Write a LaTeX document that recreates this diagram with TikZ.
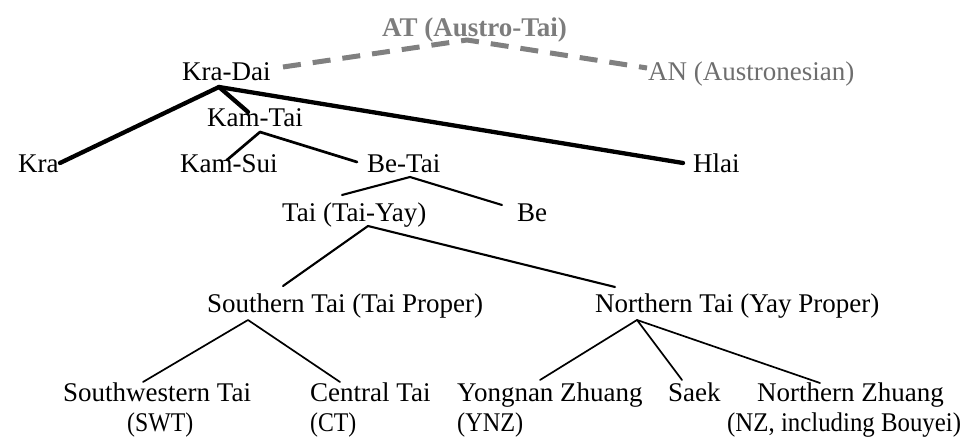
\documentclass[tikz,border=0pt]{standalone}
\usepackage{fontspec}
\setmainfont{Liberation Serif}
\definecolor{atgray}{RGB}{125,125,125}
\definecolor{angray}{RGB}{110,110,110}
\definecolor{dashgray}{RGB}{128,128,128}
\begin{document}
\begin{tikzpicture}[x=1pt,y=-1pt,
  lbl/.style={anchor=base west,inner sep=0pt,font=\fontsize{27}{30}\selectfont},
  thickl/.style={line width=4.3pt,line cap=round,line join=round},
  medl/.style={line width=2.7pt,line cap=round,line join=round},
  thinl/.style={line width=2.1pt,line cap=round,line join=round},
  finel/.style={line width=1.7pt,line cap=round,line join=round},
  dashl/.style={dashgray,line width=5pt,dash pattern=on 18pt off 12pt}]
\useasboundingbox (0,0) rectangle (971,438);
% labels
\node[lbl,text=atgray,font=\fontsize{27}{30}\selectfont\bfseries] (at) at (382,37) {AT (Austro-Tai)};
\node[lbl] (kradai) at (182,81) {Kra-Dai};
\node[lbl,text=angray] (an) at (648,81) {AN (Austronesian)};
\node[lbl] (kamtai) at (207,127) {Kam-Tai};
\node[lbl] (kra) at (18,173) {Kra};
\node[lbl] (kamsui) at (180,173) {Kam-Sui};
\node[lbl] (betai) at (367,173) {Be-Tai};
\node[lbl] (hlai) at (693,173) {Hlai};
\node[lbl] (tai) at (282,222) {Tai (Tai-Yay)};
\node[lbl] (be) at (517,222) {Be};
\node[lbl] (stai) at (207,312) {Southern Tai (Tai Proper)};
\node[lbl] (ntai) at (595,312) {Northern Tai (Yay Proper)};
\node[lbl] (swt) at (63,401) {Southwestern Tai};
\node[lbl] (swtb) at (127,431) {\scalebox{0.88}[1]{(SWT)}};
\node[lbl] (ct) at (310,401) {Central Tai};
\node[lbl] (ctb) at (310,431) {\scalebox{0.88}[1]{(CT)}};
\node[lbl] (ynz) at (457,401) {Yongnan Zhuang};
\node[lbl] (ynzb) at (457,431) {\scalebox{0.9}[1]{(YNZ)}};
\node[lbl] (saek) at (668,401) {Saek};
\node[lbl] (nz) at (757,401) {Northern Zhuang};
\node[lbl] (nzb) at (727,431) {\scalebox{0.92}[1]{(NZ, including Bouyei)}};
% connector points
\coordinate (kradaiE) at (283,67);
\coordinate (atA) at (467,40);
\coordinate (anW) at (647,68);
\coordinate (kradaiA) at (219,87);
\coordinate (kraE) at (60,163);
\coordinate (kamtaiE) at (248,112);
\coordinate (hlaiE) at (683,163);
\coordinate (kamtaiA) at (260,132);
\coordinate (kamsuiE) at (227,160);
\coordinate (betaiE) at (357,162);
\coordinate (betaiA) at (410,177);
\coordinate (taiE) at (342,195);
\coordinate (beE) at (502,205);
\coordinate (taiA) at (368,226);
\coordinate (staiE) at (283,286);
\coordinate (ntaiE) at (615,287);
\coordinate (staiA) at (248,320);
\coordinate (swtE) at (143,382);
\coordinate (ctE) at (340,382);
\coordinate (ntaiA) at (637,320);
\coordinate (ynzE) at (540,380);
\coordinate (saekE) at (682,380);
\coordinate (nzE) at (820,383);
% connectors
\draw[dashl] (kradaiE) -- (atA) -- (anW);
\draw[thickl] (kraE) -- (kradaiA) -- (hlaiE);
\draw[thickl] (kradaiA) -- (kamtaiE);
\draw[medl] (kamsuiE) -- (kamtaiA) -- (betaiE);
\draw[thinl] (taiE) -- (betaiA) -- (beE);
\draw[thinl] (staiE) -- (taiA) -- (ntaiE);
\draw[finel] (swtE) -- (staiA) -- (ctE);
\draw[finel] (ynzE) -- (ntaiA) -- (nzE);
\draw[finel] (ntaiA) -- (saekE);
\end{tikzpicture}
\end{document}
